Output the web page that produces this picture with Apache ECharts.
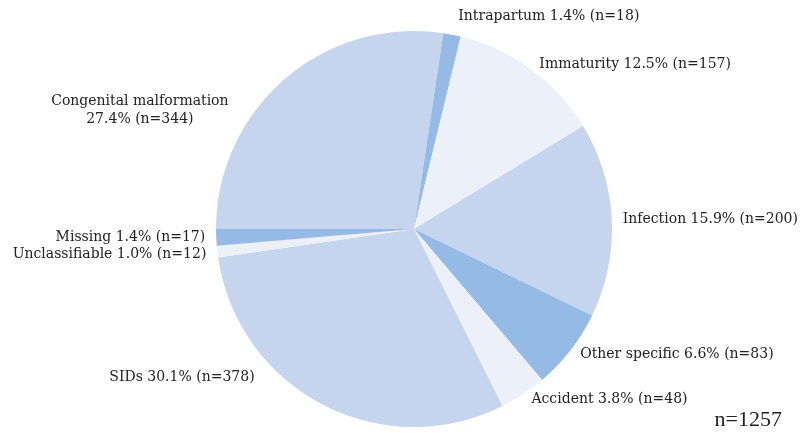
<!DOCTYPE html>
<html>
<head>
<meta charset="utf-8">
<script src="https://cdn.jsdelivr.net/npm/echarts@6/dist/echarts.min.js"></script>
<style>
	html, body { margin: 0; padding: 0; background: #fff; }
	#chart { width: 804px; height: 433px; }
</style>
</head>
<body>
<div id="chart"></div>
<script>
	// causes in drawing order, clockwise from 9 o'clock
	var causes = ['Congenital malformation', 'Intrapartum', 'Immaturity', 'Infection', 'Other specific', 'Accident', 'SIDs', 'Unclassifiable', 'Missing'];
	var counts = [344, 18, 157, 200, 83, 48, 378, 12, 17];
	var percents = ['27.4', '1.4', '12.5', '15.9', '6.6', '3.8', '30.1', '1.0', '1.4'];
	var totalLabel = 'n=1257';

	var mid = '#c5d5ee', dark = '#94bae5', pale = '#ecf1f9';
	var colors = [mid, dark, pale, mid, dark, pale, mid, pale, dark];

	// hand nudges for the labels that do not sit on their slice's mid-line
	var labelShift = {
		0: {dx: -136, dy: 36, align: 'center'},
		1: {dx: 0, dy: -12},
		6: {dx: -60, dy: -32},
		7: {dx: 0, dy: 2}
	};

	var myChart = echarts.init(document.getElementById('chart'));
	var option = {
		animation: false,
		graphic: [{
			type: 'text',
			right: 22,
			top: 409,
			style: {
				text: totalLabel,
				font: '22px "Liberation Serif"',
				fill: '#222'
			}
		}],
		series: [{
			type: 'pie',
			center: [414, 229],
			radius: 198,
			startAngle: 180,
			clockwise: true,
			avoidLabelOverlap: false,
			label: {
				position: 'outside',
				color: '#222',
				fontFamily: 'DejaVu Serif',
				fontSize: 14,
				lineHeight: 18,
				distanceToLabelLine: 5,
				formatter: function(p){
					var sep = p.dataIndex === 0 ? '\n' : ' ';
					return p.name + sep + percents[p.dataIndex] + '% (n=' + p.value + ')';
				}
			},
			labelLine: { show: false, length: 6, length2: 0 },
			labelLayout: function(params){
				return labelShift[params.dataIndex] || {};
			},
			itemStyle: { borderWidth: 0 },
			emphasis: { disabled: true },
			data: causes.map(function(name, i){
				return { name: name, value: counts[i], itemStyle: { color: colors[i] } };
			})
		}]
	};
	myChart.setOption(option);
</script>
</body>
</html>
